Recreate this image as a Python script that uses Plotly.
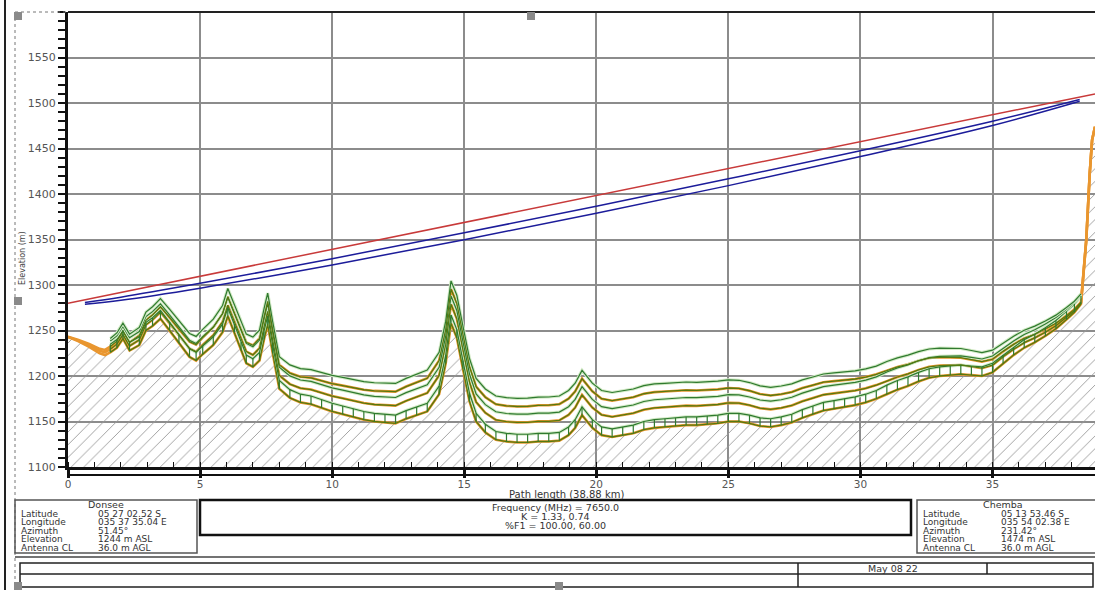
import plotly.graph_objects as go

# ---------------- data ----------------
dist_km = [0.0, 0.4, 0.8, 1.2, 1.4, 1.6, 1.85, 2.08, 2.33, 2.7,
           2.95, 3.2, 3.5, 3.85, 4.2, 4.6, 4.85, 5.1, 5.5, 5.85,
           6.05, 6.3, 6.55, 6.75, 7.0, 7.25, 7.42, 7.56, 7.75, 8.0,
           8.4, 8.8, 9.2, 9.6, 10.0, 10.4, 10.8, 11.2, 11.6, 12.0,
           12.4, 12.8, 13.2, 13.6, 14.05, 14.3, 14.5, 14.72, 14.95, 15.2,
           15.45, 15.8, 16.2, 16.6, 17.0, 17.4, 17.8, 18.2, 18.6, 18.95,
           19.2, 19.46, 19.85, 20.2, 20.6, 21.0, 21.4, 21.8, 22.2, 22.6,
           23.0, 23.4, 23.8, 24.2, 24.6, 25.0, 25.4, 25.8, 26.2, 26.6,
           27.0, 27.4, 27.8, 28.2, 28.6, 29.0, 29.4, 29.8, 30.2, 30.6,
           31.0, 31.4, 31.8, 32.2, 32.6, 33.0, 33.4, 33.8, 34.2, 34.6,
           35.0, 35.4, 35.8, 36.2, 36.6, 37.0, 37.4, 37.8, 38.1, 38.35,
           38.55, 38.68, 38.77, 38.88]

terrain_m = [1243, 1238, 1232, 1225, 1223, 1226, 1231, 1241, 1228, 1234,
             1250, 1255, 1263, 1250, 1236, 1221, 1217, 1224, 1234, 1248,
             1266, 1248, 1228, 1214, 1210, 1217, 1240, 1257, 1225, 1186,
             1176, 1171, 1169, 1165, 1161, 1158, 1155, 1152, 1150, 1149,
             1148, 1153, 1157, 1161, 1180, 1214, 1258, 1242, 1208, 1172,
             1150, 1138, 1130, 1128, 1127, 1127, 1128, 1128, 1129, 1135,
             1143, 1157, 1143, 1135, 1133, 1135, 1137, 1141, 1143, 1144,
             1145, 1146, 1146, 1147, 1148, 1150, 1150, 1148, 1145, 1144,
             1146, 1149, 1154, 1158, 1162, 1164, 1166, 1168, 1171, 1175,
             1180, 1185, 1189, 1194, 1198, 1200, 1201, 1202, 1201, 1200,
             1204, 1214, 1223, 1231, 1237, 1244, 1252, 1262, 1270, 1279,
             1349, 1422, 1459, 1474]

# gap between the terrain and the K = 1.33 profile line
k133_offset_m = [0, 0.9, 1.8, 2.7, 3.1, 3.5, 4.0, 4.5, 5.0, 5.8,
                 6.3, 6.7, 7.3, 8.0, 8.6, 9.3, 9.7, 10.2, 10.8, 11.4,
                 11.7, 12.1, 12.5, 12.8, 13.2, 13.5, 13.8, 14.0, 14.2, 14.6,
                 15.1, 15.6, 16.1, 16.6, 17.0, 17.5, 17.9, 18.3, 18.7, 19.0,
                 19.4, 19.7, 20.0, 20.3, 20.6, 20.7, 20.9, 21.0, 21.1, 21.2,
                 21.4, 21.5, 21.7, 21.8, 22.0, 22.1, 22.1, 22.2, 22.3, 22.3,
                 22.3, 22.3, 22.3, 22.3, 22.2, 22.2, 22.1, 22.0, 21.9, 21.7,
                 21.6, 21.4, 21.2, 21.0, 20.7, 20.5, 20.2, 19.9, 19.6, 19.3,
                 18.9, 18.6, 18.2, 17.8, 17.4, 16.9, 16.4, 16.0, 15.5, 15.0,
                 14.4, 13.9, 13.3, 12.7, 12.1, 11.5, 10.8, 10.1, 9.4, 8.7,
                 8.0, 7.3, 6.5, 5.7, 4.9, 4.1, 3.3, 2.4, 1.8, 1.2,
                 0.8, 0.5, 0.3, 0]

# gap between the terrain and the K = 0.74 profile line
k074_offset_m = [0, 1.6, 3.2, 4.8, 5.6, 6.3, 7.3, 8.1, 9.0, 10.4,
                 11.2, 12.1, 13.1, 14.3, 15.5, 16.7, 17.5, 18.3, 19.5, 20.5,
                 21.1, 21.8, 22.5, 23.0, 23.7, 24.3, 24.8, 25.1, 25.6, 26.2,
                 27.2, 28.1, 29.0, 29.8, 30.6, 31.4, 32.2, 32.9, 33.6, 34.2,
                 34.8, 35.4, 36.0, 36.5, 37.0, 37.3, 37.5, 37.7, 38.0, 38.2,
                 38.4, 38.7, 39.0, 39.2, 39.5, 39.6, 39.8, 39.9, 40.0, 40.1,
                 40.1, 40.1, 40.1, 40.0, 39.9, 39.8, 39.7, 39.5, 39.3, 39.0,
                 38.7, 38.4, 38.1, 37.7, 37.3, 36.8, 36.3, 35.8, 35.2, 34.6,
                 34.0, 33.4, 32.7, 31.9, 31.2, 30.4, 29.6, 28.7, 27.8, 26.9,
                 25.9, 24.9, 23.9, 22.8, 21.7, 20.6, 19.4, 18.2, 17.0, 15.7,
                 14.4, 13.1, 11.7, 10.3, 8.8, 7.4, 5.9, 4.3, 3.2, 2.2,
                 1.3, 0.8, 0.5, 0]

# clutter (tree) height above each profile, 0 = no clutter
clutter_m = [0, 0, 0, 0, 0, 9, 9, 9, 9, 9,
             9, 9, 9, 9, 9, 9, 9, 9, 9, 9,
             9, 9, 9, 9, 9, 9, 9, 9, 9, 9,
             9, 9, 9, 9, 9, 9, 9, 9, 9, 9,
             9, 9, 9, 9, 9, 9, 9, 9, 9, 9,
             9, 9, 9, 9, 9, 9, 9, 9, 9, 9,
             9, 9, 9, 9, 9, 9, 9, 9, 9, 9,
             9, 9, 9, 9, 9, 9, 9, 9, 9, 9,
             9, 9, 9, 9, 9, 9, 9, 9, 9, 9,
             10, 10, 10, 10, 10, 10, 10, 10, 10, 10,
             10, 9, 9, 9, 9, 9, 9, 9, 9, 9,
             0, 0, 0, 0]

ray_km = [0.0, 38.88]
ray_m = [1280, 1510]

fresnel_km = [0.64, 2.0, 5.0, 10.0, 15.0, 20.0, 25.0, 30.0, 35.0, 38.3]
fresnel60_m = [1280.8, 1286.6, 1301.8, 1328.9, 1357.3, 1386.6, 1416.7, 1447.6, 1480.0, 1503.8]
fresnel100_m = [1278.8, 1283.2, 1296.5, 1322.1, 1349.7, 1378.8, 1409.2, 1441.1, 1475.3, 1501.9]

elev_ticks = [1100, 1150, 1200, 1250, 1300, 1350, 1400, 1450, 1500, 1550]

site_labels = ["Latitude", "Longitude", "Azimuth", "Elevation", "Antenna CL"]
donsee_values = ["05 27 02.52 S", "035 37 35.04 E", "51.45°", "1244 m ASL", "36.0 m AGL"]
chemba_values = ["05 13 53.46 S", "035 54 02.38 E", "231.42°", "1474 m ASL", "36.0 m AGL"]
radio_lines = ["Frequency (MHz) = 7650.0", "K = 1.33, 0.74", "%F1 = 100.00, 60.00"]

# ---------------- derived profile lines ----------------
n = len(dist_km)
prof133 = [terrain_m[i] + k133_offset_m[i] for i in range(n)]
prof074 = [terrain_m[i] + k074_offset_m[i] for i in range(n)]
idx = [i for i in range(n) if clutter_m[i] > 0]
cx = [dist_km[i] for i in idx]
base_lines = [terrain_m, prof133, prof074]

# ---------------- page geometry ----------------
W, H = 1095, 590
ML, MR, MT, MB = 68, 0, 12, 123
PW = W - ML - MR
PH = H - MT - MB


def fx(px):
    return (px - ML) / PW


def fy(py):
    return (H - MB - py) / PH


ORANGE = "#e9962f"
OLIVE = "#56790f"
GREEN = "#2f7a2f"
TXT = "#333333"
FONT = "DejaVu Sans"

fig = go.Figure()

# terrain with hatch
fig.add_trace(go.Scatter(
    x=dist_km, y=terrain_m, mode="lines",
    line=dict(color=ORANGE, width=2.6),
    fill="tozeroy", fillcolor="rgba(0,0,0,0)",
    fillpattern=dict(shape="/", fgcolor="#999999", bgcolor="rgba(255,255,255,0)",
                     size=9, solidity=0.1, fillmode="replace"),
    hoverinfo="skip", showlegend=False))

# K-profile lines (orange base)
for prof in (prof133, prof074):
    fig.add_trace(go.Scatter(x=dist_km, y=prof, mode="lines",
                             line=dict(color=ORANGE, width=2.6),
                             hoverinfo="skip", showlegend=False))

# clutter tops (green, with pale halo)
for prof in base_lines:
    top = [prof[i] + clutter_m[i] for i in idx]
    fig.add_trace(go.Scatter(x=cx, y=top, mode="lines",
                             line=dict(color="#d3eac6", width=3.2),
                             hoverinfo="skip", showlegend=False))
    fig.add_trace(go.Scatter(x=cx, y=top, mode="lines",
                             line=dict(color=GREEN, width=1.2),
                             hoverinfo="skip", showlegend=False))

# olive overlay on the profiles in clutter zone
for prof in base_lines:
    fig.add_trace(go.Scatter(x=cx, y=[prof[i] for i in idx], mode="lines",
                             line=dict(color=OLIVE, width=1.3),
                             hoverinfo="skip", showlegend=False))

# clutter boxes (vertical sides)
bx, by = [], []
for i in idx:
    bx += [dist_km[i], dist_km[i], None]
    by += [terrain_m[i], terrain_m[i] + clutter_m[i], None]
fig.add_trace(go.Scatter(x=bx, y=by, mode="lines",
                         line=dict(color=GREEN, width=1.2),
                         hoverinfo="skip", showlegend=False))

# Fresnel clearance and ray
fig.add_trace(go.Scatter(x=fresnel_km, y=fresnel100_m, mode="lines",
                         line=dict(color="#1c1c9a", width=1.5, shape="spline"),
                         hoverinfo="skip", showlegend=False))
fig.add_trace(go.Scatter(x=fresnel_km, y=fresnel60_m, mode="lines",
                         line=dict(color="#1c1c9a", width=1.5, shape="spline"),
                         hoverinfo="skip", showlegend=False))
fig.add_trace(go.Scatter(x=ray_km, y=ray_m, mode="lines",
                         line=dict(color="#c83a3a", width=1.5),
                         hoverinfo="skip", showlegend=False))

# ---------------- shapes ----------------
shapes = []


def line(x0, y0, x1, y1, color="#222", width=1.5, dash=None):
    d = dict(type="line", xref="paper", yref="paper",
             x0=fx(x0), y0=fy(y0), x1=fx(x1), y1=fy(y1),
             line=dict(color=color, width=width))
    if dash:
        d["line"]["dash"] = dash
    shapes.append(d)


def rect(x0, y0, x1, y1, color="#333", width=1.5, fill=None):
    d = dict(type="rect", xref="paper", yref="paper",
             x0=fx(x0), y0=fy(y0), x1=fx(x1), y1=fy(y1),
             line=dict(color=color, width=width))
    if fill:
        d["fillcolor"] = fill
        d["line"]["width"] = 0
    shapes.append(d)


# window edge and selection frame
line(5, 0, 5, 590, "#222", 2)
line(15, 12, 15, 590, "#777", 1, "dot")
line(15, 12, 68, 12, "#777", 1, "dot")
line(68, 12, 1095, 12, "#222", 2)
# second line of x axis bar
line(68, 475, 1095, 475, "#111", 2)

# info boxes
rect(15, 500, 197, 553, "#555", 1.5)
rect(200, 500, 911, 535, "#111", 2.5)
rect(917, 500, 1096, 553, "#555", 1.5)

# bottom table
line(15, 557, 1095, 557, "#444", 1.5)
rect(20, 563, 1093, 587, "#222", 1.5)
line(20, 574, 1093, 574, "#222", 1.5)
line(798, 563, 798, 587, "#222", 1.5)
line(987, 563, 987, 574, "#222", 1.5)

# selection handles
for hx, hy in [(14, 12), (527, 12), (14, 297), (14, 582), (555, 582)]:
    rect(hx, hy, hx + 8, hy + 8, fill="#8a8a8a")

# ---------------- annotations ----------------
ann = []


def text(px, py, s, anchor="left", size=9, color=TXT, angle=0):
    ann.append(dict(x=fx(px), y=fy(py), xref="paper", yref="paper", text=s,
                    showarrow=False, xanchor=anchor, yanchor="middle",
                    textangle=angle, borderpad=0,
                    font=dict(family=FONT, size=size, color=color)))


text(22, 258, "Elevation (m)", "center", 8, "#444", -90)
text(566, 494, "Path length (38.88 km)", "center", 10)

row_y = [513.5, 522, 530.5, 539, 547.5]
text(106, 505, "Donsee", "center", 9.5)
text(1003, 505, "Chemba", "center", 9.5)
for k, lab in enumerate(site_labels):
    text(20, row_y[k], lab)
    text(97, row_y[k], donsee_values[k])
    text(922, row_y[k], lab)
    text(1000, row_y[k], chemba_values[k])

for k, s in enumerate(radio_lines):
    text(555, [508, 516.5, 525][k], s, "center", 9.5)

text(893, 568.5, "May 08 22", "center", 9.5)

fig.update_layout(
    width=W, height=H,
    margin=dict(l=ML, r=MR, t=MT, b=MB, autoexpand=False),
    paper_bgcolor="white", plot_bgcolor="white",
    shapes=shapes, annotations=ann, showlegend=False,
    xaxis=dict(range=[0, 38.88], tickmode="linear", tick0=0, dtick=5,
               showgrid=True, gridcolor="#8c8c8c", gridwidth=1.5,
               showline=True, linecolor="#111", linewidth=3,
               ticks="outside", ticklen=8, tickwidth=3, tickcolor="#111",
               ticklabelstandoff=-3,
               tickfont=dict(family=FONT, size=10.5, color="#555"),
               minor=dict(tickmode="linear", tick0=0, dtick=1, ticks="inside",
                          ticklen=5, tickwidth=1, tickcolor="#111", showgrid=False),
               zeroline=False, fixedrange=True),
    yaxis=dict(range=[1100, 1600], tickmode="array", tickvals=elev_ticks,
               showgrid=True, gridcolor="#8c8c8c", gridwidth=1.5,
               showline=True, linecolor="#111", linewidth=3,
               ticks="outside", ticklen=7, tickwidth=1.5, tickcolor="#111",
               tickfont=dict(family=FONT, size=11, color="#555"),
               minor=dict(tickmode="linear", tick0=1100, dtick=10, ticks="outside",
                          ticklen=7, tickwidth=1.5, tickcolor="#111", showgrid=False),
               zeroline=False, fixedrange=True),
)

fig.write_html("out.html", config={"displayModeBar": False},
               post_script="document.body.style.margin='0';document.body.style.overflow='hidden';")
